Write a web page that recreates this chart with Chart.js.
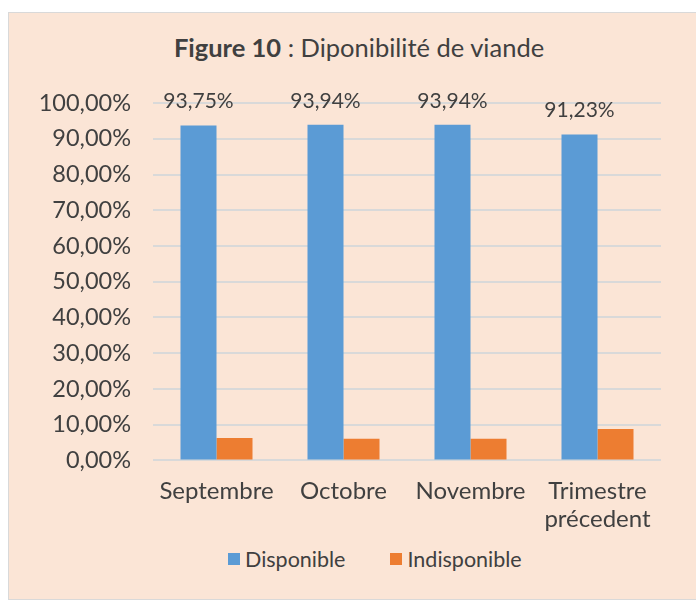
<!DOCTYPE html>
<html>
<head>
<meta charset="utf-8">
<script src="https://cdn.jsdelivr.net/npm/chart.js@4.4.1/dist/chart.umd.min.js"></script>
<style>
  html, body { margin: 0; padding: 0; background: #fff; overflow: hidden; }
  .frame {
    position: absolute; left: 8px; top: 12px; width: 690px; height: 588px;
    background: #FBE5D6; border: 1px solid #D9D9D9; box-sizing: border-box;
  }
  .title {
    position: absolute; left: 0; top: 19px; width: 100%; padding-left: 12px; box-sizing: border-box;
    text-align: center; font-family: Lato, sans-serif; font-size: 25.5px; color: #404040; white-space: nowrap;
  }
  .title b { font-weight: 700; }
  .wrap { position: absolute; left: 0; top: 54px; width: 688px; height: 475px; }
  .legend {
    position: absolute; left: 219px; top: 533px; display: flex; align-items: center;
    font-family: Lato, sans-serif; font-size: 21.5px; color: #404040;
  }
  .legend span.item { display: flex; align-items: center; margin-right: 45px; }
  .legend i { display: inline-block; width: 12px; height: 12px; margin-right: 5px; }
</style>
</head>
<body>
<div class="frame">
  <div class="title"><b>Figure 10</b> : Diponibilité de viande</div>
  <div class="wrap"><canvas id="c"></canvas></div>
  <div class="legend" id="legend"></div>
</div>
<script>
(function () {
  'use strict';

  const categories = ['Septembre', 'Octobre', 'Novembre', ['Trimestre', 'précedent']];
  const disponible = [93.75, 93.94, 93.94, 91.23];
  const indisponible = [6.25, 6.06, 6.06, 8.77];

  const TEXT_COLOR = '#404040';
  const GRID_COLOR = '#D9D9D9';
  const fmt = v => v.toFixed(2).replace('.', ',') + '%';

  // étiquettes au-dessus des barres bleues
  const valueLabels = {
    id: 'valueLabels',
    afterDatasetsDraw(chart) {
      const ctx = chart.ctx;
      const meta = chart.getDatasetMeta(0);
      ctx.save();
      ctx.font = '21px Lato, sans-serif';
      ctx.fillStyle = TEXT_COLOR;
      ctx.textAlign = 'center';
      ctx.textBaseline = 'middle';
      meta.data.forEach((bar, i) => {
        ctx.fillText(fmt(disponible[i]), bar.x, bar.y - 24);
      });
      ctx.restore();
    }
  };

  const chart = new Chart(document.getElementById('c'), {
    type: 'bar',
    data: {
      labels: categories,
      datasets: [
        { label: 'Disponible', data: disponible, backgroundColor: '#5B9BD5' },
        { label: 'Indisponible', data: indisponible, backgroundColor: '#ED7D31' },
      ],
    },
    options: {
      responsive: true, maintainAspectRatio: false, animation: false,
      categoryPercentage: 0.567, barPercentage: 1,
      layout: { padding: { left: 0, right: 36, top: 0, bottom: 0 } },
      plugins: {
        legend: { display: false },
        tooltip: { enabled: false },
      },
      scales: {
        x: {
          grid: { display: false },
          border: { display: false },
          ticks: { color: TEXT_COLOR, font: { family: 'Lato', size: 24 }, padding: 8, maxRotation: 0, autoSkip: false },
        },
        y: {
          min: 0, max: 100,
          afterFit(axis) { axis.width = 144; },
          border: { display: false },
          grid: { color: GRID_COLOR, lineWidth: 2, drawTicks: false },
          ticks: { stepSize: 10, autoSkip: false, color: TEXT_COLOR, font: { family: 'Lato', size: 23.5 }, padding: 22, callback: v => fmt(v) },
        },
      },
    },
    plugins: [valueLabels],
  });

  // légende HTML
  const legend = document.getElementById('legend');
  chart.data.datasets.forEach(ds => {
    const item = document.createElement('span');
    item.className = 'item';
    const sw = document.createElement('i');
    sw.style.background = ds.backgroundColor;
    item.appendChild(sw);
    item.appendChild(document.createTextNode(ds.label));
    legend.appendChild(item);
  });
})();
</script>
</body>
</html>
